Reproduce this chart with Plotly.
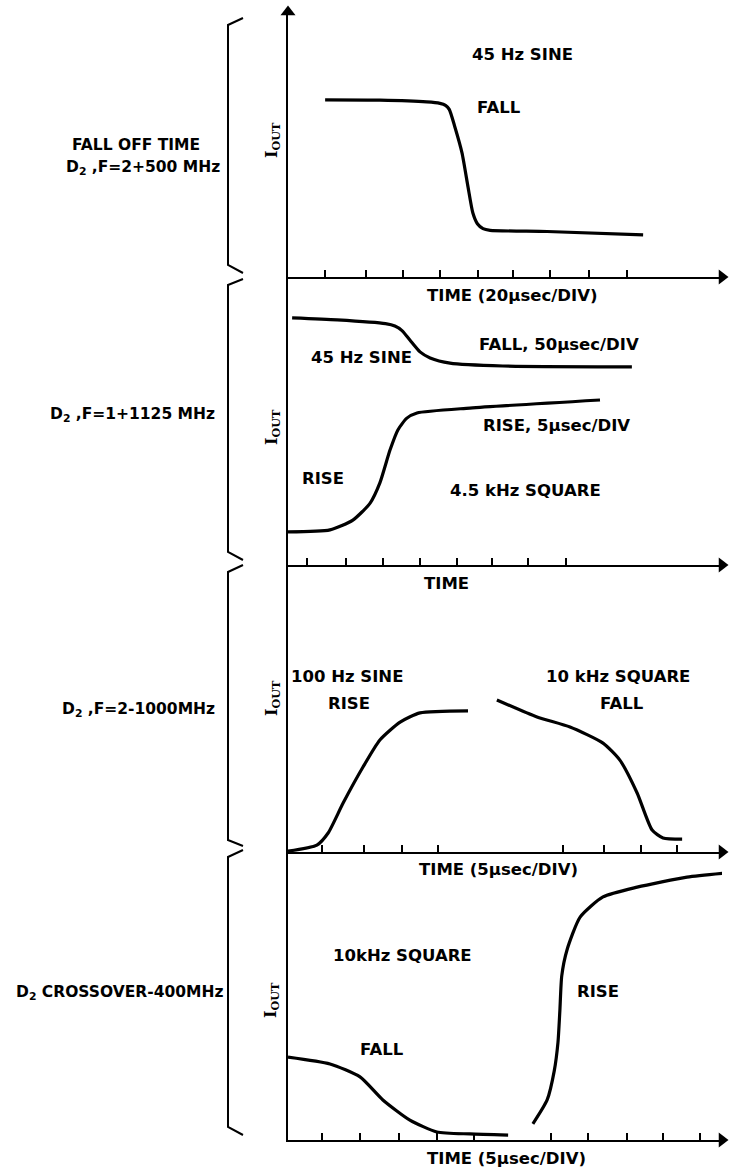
import plotly.graph_objects as go

W, H = 733, 1176

# ---------------- data (x in time divisions, y in arbitrary I_OUT units) ----------------
# Panel 1: 45 Hz sine, fall (20 usec/DIV)
p1_fall_x = [0.99, 2.45, 3.70, 4.05, 4.20, 4.30, 4.45, 4.64, 4.80, 4.93, 5.05, 5.20, 5.39, 6.91, 9.47]
p1_fall_y = [6.15, 6.14, 6.08, 6.03, 5.96, 5.82, 5.21, 4.31, 3.13, 2.22, 1.85, 1.68, 1.62, 1.58, 1.46]
p1_ticks = [0.99, 2.08, 3.07, 4.05, 5.07, 6.00, 6.99, 8.03, 9.04]

# Panel 2: 45 Hz sine fall (50 usec/DIV) and 4.5 kHz square rise (5 usec/DIV)
p2_fall_x = [0.11, 1.31, 2.60, 2.85, 3.04, 3.25, 3.52, 3.79, 4.32, 5.73, 9.17]
p2_fall_y = [8.58, 8.51, 8.38, 8.30, 8.14, 7.81, 7.40, 7.19, 7.01, 6.91, 6.88]
p2_rise_x = [0.00, 1.12, 1.73, 2.19, 2.45, 2.72, 2.93, 3.17, 3.44, 4.85, 8.32]
p2_rise_y = [1.15, 1.22, 1.56, 2.15, 2.85, 3.99, 4.69, 5.10, 5.28, 5.45, 5.73]
p2_ticks = [0.51, 1.55, 2.53, 3.52, 4.51, 5.44, 6.40, 7.41]

# Panel 3: 100 Hz sine rise and 10 kHz square fall (5 usec/DIV)
p3_rise_x = [0.00, 0.77, 1.07, 1.47, 2.00, 2.45, 2.99, 3.52, 4.80]
p3_rise_y = [0.03, 0.24, 0.66, 1.70, 2.95, 3.89, 4.51, 4.83, 4.90]
p3_fall_x = [5.57, 6.64, 7.52, 8.40, 8.85, 9.31, 9.71, 10.00, 10.51]
p3_fall_y = [5.28, 4.69, 4.34, 3.78, 3.19, 2.05, 0.76, 0.49, 0.45]
p3_ticks = [0.91, 2.03, 3.04, 4.00, 7.33, 8.43, 9.41, 10.37]

# Panel 4: crossover, 10 kHz square fall and rise (5 usec/DIV)
p4_fall_x = [0.00, 1.12, 1.92, 2.53, 3.25, 3.97, 4.85, 5.87]
p4_fall_y = [2.88, 2.64, 2.19, 1.39, 0.69, 0.28, 0.21, 0.17]
p4_rise_x = [6.53, 6.91, 7.10, 7.20, 7.25, 7.30, 7.44, 7.79, 8.40, 9.31, 10.64, 11.65]
p4_rise_y = [0.56, 1.39, 2.40, 3.40, 4.50, 5.70, 6.60, 7.74, 8.44, 8.78, 9.13, 9.27]
p4_ticks = [0.91, 1.92, 2.96, 3.97, 4.96, 7.01, 8.00, 9.04, 10.00, 10.99]

group_labels = [
    ["FALL OFF TIME", "D<sub>2</sub> ,F=2+500 MHz"],
    ["D<sub>2</sub> ,F=1+1125 MHz"],
    ["D<sub>2</sub> ,F=2-1000MHz"],
    ["D<sub>2</sub> CROSSOVER-400MHz"],
]
axis_titles = ["TIME (20μsec/DIV)", "TIME", "TIME (5μsec/DIV)", "TIME (5μsec/DIV)"]

# ---------------- layout geometry (pixels) ----------------
X0_PX, X1_PX = 288, 728
DIV_PX, UNIT_PX = 37.5, 28.8
panels_px = [(277, 12), (565, 277), (852, 565), (1140, 852)]  # (axis y, top y)
title_px = [(512, 295), (446, 583), (498, 869), (506, 1158)]
iout_px_y = [140, 427, 698, 1000]

FONT = dict(family="DejaVu Sans", size=16.5, color="black", weight="bold")
LFONT = dict(family="DejaVu Sans", size=15.5, color="black", weight="bold")


def px2paper_x(px):
    return px / W


def px2paper_y(py):
    return 1 - py / H


fig = go.Figure()

curves = [
    [(p1_fall_x, p1_fall_y)],
    [(p2_fall_x, p2_fall_y), (p2_rise_x, p2_rise_y)],
    [(p3_rise_x, p3_rise_y), (p3_fall_x, p3_fall_y)],
    [(p4_fall_x, p4_fall_y), (p4_rise_x, p4_rise_y)],
]
ticks = [p1_ticks, p2_ticks, p3_ticks, p4_ticks]

xmax = (X1_PX - X0_PX) / DIV_PX
layout = {}
annotations = []
for i, (bot, top) in enumerate(panels_px):
    sfx = "" if i == 0 else str(i + 1)
    ymax = (bot - top) / UNIT_PX
    layout["xaxis" + sfx] = dict(
        domain=[px2paper_x(X0_PX), px2paper_x(X1_PX - 6)], range=[0, xmax * (X1_PX - 6 - X0_PX) / (X1_PX - X0_PX)],
        showline=True, linecolor="black", linewidth=2,
        ticks="inside", ticklen=7, tickwidth=1.5, tickcolor="black",
        tickvals=ticks[i], showticklabels=False, showgrid=False, zeroline=False,
        anchor="y" + sfx, fixedrange=True,
    )
    layout["yaxis" + sfx] = dict(
        domain=[px2paper_y(bot), px2paper_y(top)], range=[0, ymax],
        showline=True, linecolor="black", linewidth=2,
        showticklabels=False, ticks="", showgrid=False, zeroline=False,
        anchor="x" + sfx, fixedrange=True,
    )
    for cx, cy in curves[i]:
        fig.add_trace(go.Scatter(
            x=cx, y=cy, mode="lines",
            line=dict(color="black", width=3.2, shape="spline", smoothing=0.6),
            xaxis="x" + sfx, yaxis="y" + sfx, showlegend=False, hoverinfo="skip", cliponaxis=False,
        ))
    # x-axis arrowhead (marker at the end of the axis)
    fig.add_trace(go.Scatter(
        x=[xmax * (X1_PX - 6 - X0_PX) / (X1_PX - X0_PX)], y=[0], mode="markers",
        marker=dict(symbol="triangle-right", size=13, color="black"),
        xaxis="x" + sfx, yaxis="y" + sfx, showlegend=False, hoverinfo="skip", cliponaxis=False,
    ))
    # axis title
    tx, ty = title_px[i]
    annotations.append(dict(
        x=px2paper_x(tx), y=px2paper_y(ty), xref="paper", yref="paper", text=axis_titles[i],
        showarrow=False, font=FONT, xanchor="center", yanchor="middle",
    ))
    # I_OUT label
    annotations.append(dict(
        x=px2paper_x(272), y=px2paper_y(iout_px_y[i]), xref="paper", yref="paper",
        text="I<sub>OUT</sub>", showarrow=False, textangle=-90,
        font=dict(family="DejaVu Serif", size=16, color="black", weight="bold"),
        xanchor="center", yanchor="middle",
    ))

# top arrowhead of the vertical axis
fig.add_trace(go.Scatter(
    x=[0], y=[(panels_px[0][0] - panels_px[0][1]) / UNIT_PX], mode="markers",
    marker=dict(symbol="triangle-up", size=13, color="black"),
    xaxis="x", yaxis="y", showlegend=False, hoverinfo="skip", cliponaxis=False,
))

# in-plot labels (data coordinates of each panel)
texts = [
    ("", 6.24, 7.71, "45 Hz SINE"), ("", 5.63, 5.90, "FALL"),
    ("2", 1.95, 7.19, "45 Hz SINE"), ("2", 7.23, 7.64, "FALL, 50μsec/DIV"),
    ("2", 7.17, 4.83, "RISE, 5μsec/DIV"), ("2", 0.93, 2.99, "RISE"),
    ("2", 6.32, 2.60, "4.5 kHz SQUARE"),
    ("3", 1.57, 6.08, "100 Hz SINE"), ("3", 1.63, 5.17, "RISE"),
    ("3", 8.80, 6.08, "10 kHz SQUARE"), ("3", 8.91, 5.17, "FALL"),
    ("4", 3.04, 6.42, "10kHz SQUARE"), ("4", 2.51, 3.13, "FALL"), ("4", 8.27, 5.14, "RISE"),
]
for sfx, tx, ty, t in texts:
    annotations.append(dict(x=tx, y=ty, xref="x" + sfx, yref="y" + sfx, text=t,
                            showarrow=False, font=FONT, xanchor="center", yanchor="middle"))

# group labels at the left
label_pos = [[(202, 145), (222, 168)], [(217, 415)], [(217, 710)], [(225, 993)]]
for lines, poss in zip(group_labels, label_pos):
    for t, (rx, cy) in zip(lines, poss):
        annotations.append(dict(x=px2paper_x(rx), y=px2paper_y(cy), xref="paper", yref="paper",
                                text=t, showarrow=False, font=LFONT, xanchor="right", yanchor="middle"))

# brackets
brackets_px = [
    [(243, 18), (228, 25), (228, 265), (243, 273)],
    [(243, 279), (228, 285), (228, 552), (243, 560)],
    [(243, 565), (228, 572), (228, 840), (243, 846)],
    [(243, 850), (228, 857), (228, 1127), (243, 1135)],
]
shapes = []
for br in brackets_px:
    path = "M " + " L ".join(f"{px2paper_x(a):.5f},{px2paper_y(b):.5f}" for a, b in br)
    shapes.append(dict(type="path", path=path, xref="paper", yref="paper",
                       line=dict(color="black", width=2)))

fig.update_layout(
    width=W, height=H, margin=dict(l=0, r=0, t=0, b=0),
    paper_bgcolor="white", plot_bgcolor="white",
    annotations=annotations, shapes=shapes, showlegend=False,
    **layout,
)

fig.write_html("out.html")
